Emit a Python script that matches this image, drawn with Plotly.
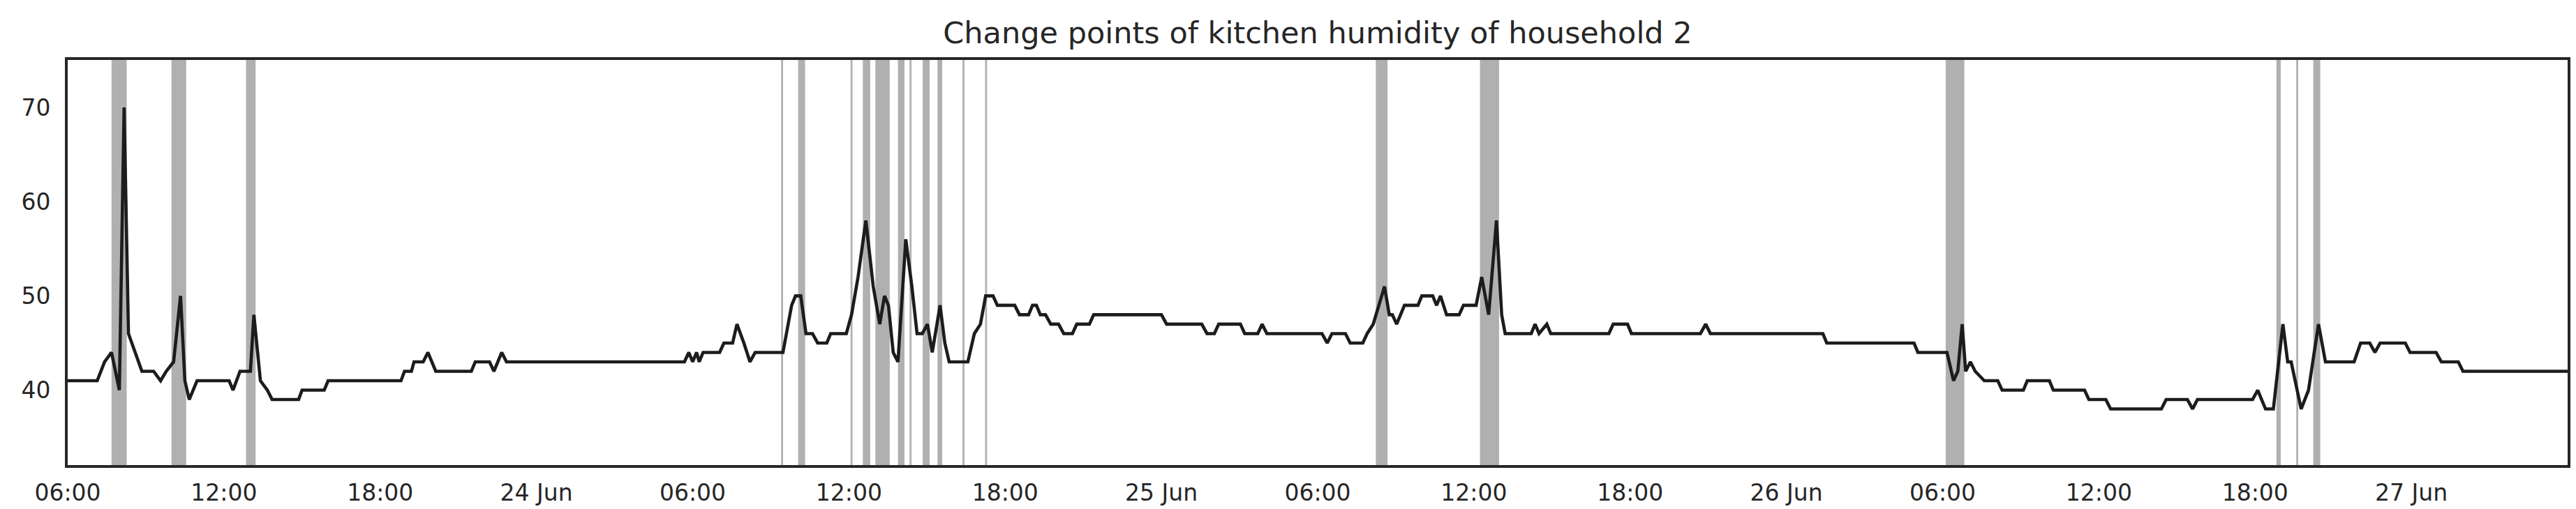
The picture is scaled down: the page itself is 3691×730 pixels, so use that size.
import plotly.graph_objects as go

# ---- data ----
times = [
    "2017-06-23 06:00", "2017-06-23 07:08", "2017-06-23 07:25", "2017-06-23 07:41", "2017-06-23 07:59",
    "2017-06-23 08:10", "2017-06-23 08:20", "2017-06-23 08:28", "2017-06-23 08:36", "2017-06-23 08:44",
    "2017-06-23 08:51", "2017-06-23 09:18", "2017-06-23 09:34", "2017-06-23 09:47", "2017-06-23 10:04",
    "2017-06-23 10:20", "2017-06-23 10:30", "2017-06-23 10:40", "2017-06-23 10:58", "2017-06-23 12:12",
    "2017-06-23 12:21", "2017-06-23 12:37", "2017-06-23 13:01", "2017-06-23 13:09", "2017-06-23 13:24",
    "2017-06-23 13:40", "2017-06-23 13:51", "2017-06-23 14:52", "2017-06-23 15:00", "2017-06-23 15:51",
    "2017-06-23 16:00", "2017-06-23 18:48", "2017-06-23 18:56", "2017-06-23 19:12", "2017-06-23 19:18",
    "2017-06-23 19:39", "2017-06-23 19:50", "2017-06-23 20:08", "2017-06-23 21:30", "2017-06-23 21:39",
    "2017-06-23 22:12", "2017-06-23 22:22", "2017-06-23 22:40", "2017-06-23 22:51",
    "2017-06-24 05:41", "2017-06-24 05:51", "2017-06-24 06:00", "2017-06-24 06:09", "2017-06-24 06:15",
    "2017-06-24 06:24", "2017-06-24 07:02", "2017-06-24 07:12", "2017-06-24 07:32", "2017-06-24 07:42",
    "2017-06-24 07:58", "2017-06-24 08:12", "2017-06-24 08:24", "2017-06-24 09:28", "2017-06-24 09:48",
    "2017-06-24 09:57", "2017-06-24 10:09", "2017-06-24 10:21", "2017-06-24 10:36", "2017-06-24 10:48",
    "2017-06-24 11:09", "2017-06-24 11:18", "2017-06-24 11:54", "2017-06-24 12:06", "2017-06-24 12:21",
    "2017-06-24 12:39", "2017-06-24 12:56", "2017-06-24 13:11", "2017-06-24 13:22", "2017-06-24 13:31",
    "2017-06-24 13:42", "2017-06-24 13:53", "2017-06-24 14:11", "2017-06-24 14:25", "2017-06-24 14:37",
    "2017-06-24 14:49", "2017-06-24 15:01", "2017-06-24 15:12", "2017-06-24 15:30", "2017-06-24 15:41",
    "2017-06-24 15:51", "2017-06-24 16:34", "2017-06-24 16:49", "2017-06-24 17:03", "2017-06-24 17:15",
    "2017-06-24 17:32", "2017-06-24 17:42", "2017-06-24 18:22", "2017-06-24 18:33", "2017-06-24 18:54",
    "2017-06-24 19:03", "2017-06-24 19:12", "2017-06-24 19:21", "2017-06-24 19:33", "2017-06-24 19:45",
    "2017-06-24 20:03", "2017-06-24 20:15", "2017-06-24 20:35", "2017-06-24 20:45", "2017-06-24 21:14",
    "2017-06-24 21:24",
    "2017-06-25 00:00", "2017-06-25 00:12", "2017-06-25 01:33", "2017-06-25 01:45", "2017-06-25 02:02",
    "2017-06-25 02:12", "2017-06-25 03:02", "2017-06-25 03:12", "2017-06-25 03:42", "2017-06-25 03:52",
    "2017-06-25 04:03", "2017-06-25 06:10", "2017-06-25 06:22", "2017-06-25 06:33", "2017-06-25 07:04",
    "2017-06-25 07:15", "2017-06-25 07:44", "2017-06-25 07:54", "2017-06-25 08:08", "2017-06-25 08:21",
    "2017-06-25 08:34", "2017-06-25 08:45", "2017-06-25 08:52", "2017-06-25 09:02", "2017-06-25 09:20",
    "2017-06-25 09:51", "2017-06-25 10:00", "2017-06-25 10:25", "2017-06-25 10:34", "2017-06-25 10:43",
    "2017-06-25 10:57", "2017-06-25 11:26", "2017-06-25 11:36", "2017-06-25 12:05", "2017-06-25 12:18",
    "2017-06-25 12:34", "2017-06-25 12:52", "2017-06-25 13:04", "2017-06-25 13:12", "2017-06-25 14:12",
    "2017-06-25 14:21", "2017-06-25 14:30", "2017-06-25 14:48", "2017-06-25 14:57", "2017-06-25 17:11",
    "2017-06-25 17:21", "2017-06-25 17:54", "2017-06-25 18:03", "2017-06-25 20:42", "2017-06-25 20:54",
    "2017-06-25 21:05",
    "2017-06-26 01:24", "2017-06-26 01:33", "2017-06-26 04:54", "2017-06-26 05:03", "2017-06-26 06:10",
    "2017-06-26 06:25", "2017-06-26 06:35", "2017-06-26 06:45", "2017-06-26 06:53", "2017-06-26 07:04",
    "2017-06-26 07:15", "2017-06-26 07:36", "2017-06-26 08:07", "2017-06-26 08:17", "2017-06-26 09:06",
    "2017-06-26 09:15", "2017-06-26 10:06", "2017-06-26 10:15", "2017-06-26 11:27", "2017-06-26 11:37",
    "2017-06-26 12:16", "2017-06-26 12:27", "2017-06-26 14:24", "2017-06-26 14:35", "2017-06-26 15:24",
    "2017-06-26 15:36", "2017-06-26 15:47", "2017-06-26 17:54", "2017-06-26 18:06", "2017-06-26 18:24",
    "2017-06-26 18:42", "2017-06-26 19:04", "2017-06-26 19:15", "2017-06-26 19:23", "2017-06-26 19:46",
    "2017-06-26 20:03", "2017-06-26 20:26", "2017-06-26 20:42", "2017-06-26 21:48", "2017-06-26 22:03",
    "2017-06-26 22:24", "2017-06-26 22:36", "2017-06-26 22:48", "2017-06-26 23:46", "2017-06-26 23:57",
    "2017-06-27 00:57", "2017-06-27 01:09", "2017-06-27 01:48", "2017-06-27 01:59", "2017-06-27 06:00",
]
humidity = [
    41, 41, 43, 44, 40, 70, 46, 45, 44, 43,
    42, 42, 41, 42, 43, 50, 41, 39, 41, 41,
    40, 42, 42, 48, 41, 40, 39, 39, 40, 40,
    41, 41, 42, 42, 43, 43, 44, 42, 42, 43,
    43, 42, 44, 43,
    43, 44, 43, 44, 43, 44, 44, 45, 45, 47,
    45, 43, 44, 44, 49, 50, 50, 46, 46, 45,
    45, 46, 46, 48, 52, 58, 51, 47, 50, 49,
    44, 43, 56, 51, 46, 46, 47, 44, 49, 45,
    43, 43, 46, 47, 50, 50, 49, 49, 48, 48,
    49, 49, 48, 48, 47, 47, 46, 46, 47, 47,
    48,
    48, 47, 47, 46, 46, 47, 47, 46, 46, 47,
    46, 46, 45, 46, 46, 45, 45, 46, 47, 49,
    51, 48, 48, 47, 49, 49, 50, 50, 49, 50,
    48, 48, 49, 49, 52, 48, 58, 48, 46, 46,
    47, 46, 47, 46, 46, 47, 47, 46, 46, 47,
    46,
    46, 45, 45, 44, 44, 41, 42, 47, 42, 43,
    42, 41, 41, 40, 40, 41, 41, 40, 40, 39,
    39, 38, 38, 39, 39, 38, 39, 39, 40, 38,
    38, 47, 43, 43, 38, 40, 47, 43, 43, 45,
    45, 44, 45, 45, 44, 44, 43, 43, 42, 42,
]

# change points (start == end -> drawn as a thin line)
cp_start = [
    "2017-06-23 07:41", "2017-06-23 09:59", "2017-06-23 12:51",
    "2017-06-24 09:26", "2017-06-24 10:03", "2017-06-24 12:06", "2017-06-24 12:32",
    "2017-06-24 13:01", "2017-06-24 13:53", "2017-06-24 14:22", "2017-06-24 14:50",
    "2017-06-24 15:24", "2017-06-24 16:24", "2017-06-24 17:16",
    "2017-06-25 08:14", "2017-06-25 12:14",
    "2017-06-26 06:07", "2017-06-26 18:49", "2017-06-26 19:37", "2017-06-26 20:14",
]
cp_end = [
    "2017-06-23 08:16", "2017-06-23 10:33", "2017-06-23 13:13",
    "2017-06-24 09:26", "2017-06-24 10:19", "2017-06-24 12:06", "2017-06-24 12:49",
    "2017-06-24 13:34", "2017-06-24 14:08", "2017-06-24 14:22", "2017-06-24 15:06",
    "2017-06-24 15:35", "2017-06-24 16:24", "2017-06-24 17:16",
    "2017-06-25 08:41", "2017-06-25 12:58",
    "2017-06-26 06:50", "2017-06-26 18:59", "2017-06-26 19:37", "2017-06-26 20:30",
]

x_tick_vals = [
    "2017-06-23 06:00", "2017-06-23 12:00", "2017-06-23 18:00", "2017-06-24 00:00",
    "2017-06-24 06:00", "2017-06-24 12:00", "2017-06-24 18:00", "2017-06-25 00:00",
    "2017-06-25 06:00", "2017-06-25 12:00", "2017-06-25 18:00", "2017-06-26 00:00",
    "2017-06-26 06:00", "2017-06-26 12:00", "2017-06-26 18:00", "2017-06-27 00:00",
]
x_tick_text = [
    "06:00", "12:00", "18:00", "24 Jun",
    "06:00", "12:00", "18:00", "25 Jun",
    "06:00", "12:00", "18:00", "26 Jun",
    "06:00", "12:00", "18:00", "27 Jun",
]
y_tick_vals = [40, 50, 60, 70]

title_text = "Change points of kitchen humidity of household 2"

# ---- figure ----
FONT = "DejaVu Sans"
TXT = "#262626"
BAND = "#b0b0b0"

fig = go.Figure()
fig.add_trace(go.Scatter(
    x=times, y=humidity, mode="lines",
    line=dict(color="#1c1c1c", width=4.6),
    showlegend=False, hoverinfo="x+y",
))

shapes = []
for s, e in zip(cp_start, cp_end):
    if s == e:
        shapes.append(dict(type="line", xref="x", yref="paper", x0=s, x1=e, y0=0, y1=1,
                           line=dict(color=BAND, width=2.8), layer="below"))
    else:
        shapes.append(dict(type="rect", xref="x", yref="paper", x0=s, x1=e, y0=0, y1=1,
                           fillcolor=BAND, line=dict(width=0), layer="below"))

fig.update_layout(
    width=3691, height=730,
    margin=dict(l=89, r=20, t=78, b=71),
    paper_bgcolor="white", plot_bgcolor="white",
    shapes=shapes,
    font=dict(family=FONT, color=TXT, size=33),
    title=dict(text=title_text, x=0.5, xref="paper", xanchor="center",
               y=1 - 39 / 730, yref="container", yanchor="middle",
               font=dict(family=FONT, size=43, color=TXT)),
    xaxis=dict(
        type="date",
        range=["2017-06-23 06:00", "2017-06-27 06:00"],
        tickvals=x_tick_vals, ticktext=x_tick_text,
        showgrid=False, zeroline=False, ticks="",
        showline=True, mirror=True, linecolor=TXT, linewidth=3.8,
        tickfont=dict(family=FONT, size=33, color=TXT),
        ticklabelstandoff=7,
    ),
    yaxis=dict(
        range=[32.05, 75.03],
        tickvals=y_tick_vals,
        showgrid=False, zeroline=False, ticks="",
        showline=True, mirror=True, linecolor=TXT, linewidth=3.8,
        tickfont=dict(family=FONT, size=33, color=TXT),
        ticklabelstandoff=14,
    ),
)

fig.write_html("out.html")
